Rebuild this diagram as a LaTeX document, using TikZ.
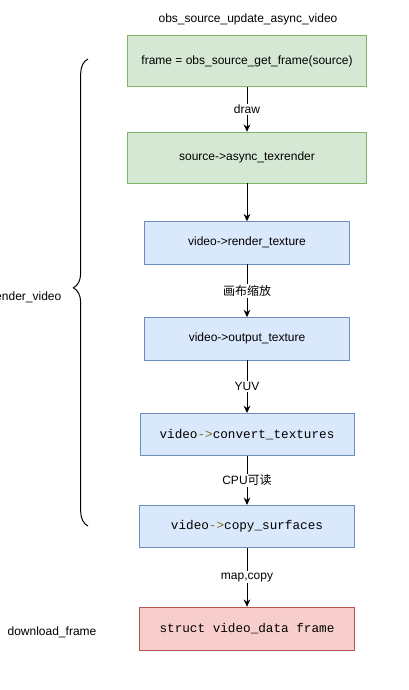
\documentclass[tikz,border=0pt]{standalone}
\usepackage{fontspec}
\setmainfont{Liberation Sans}
\setmonofont{Liberation Mono}
\newfontfamily\cjk{Noto Sans CJK SC}
\usetikzlibrary{arrows.meta,positioning,decorations.pathreplacing}

\definecolor{greenfill}{HTML}{D5E8D4}
\definecolor{greenline}{HTML}{82B366}
\definecolor{bluefill}{HTML}{DAE8FC}
\definecolor{blueline}{HTML}{6C8EBF}
\definecolor{redfill}{HTML}{F8CECC}
\definecolor{redline}{HTML}{B85450}
\definecolor{ptrcol}{HTML}{7F6A1F}

\newcommand{\ptr}{\textcolor{ptrcol}{->}}

\begin{document}
\begin{tikzpicture}[x=0.75pt, y=-0.75pt,
    sansf/.style={font=\fontsize{9pt}{11pt}\selectfont},
    monof/.style={font=\ttfamily\fontsize{9.5pt}{11pt}\selectfont},
    gbox/.style={draw=greenline, fill=greenfill, sansf, minimum width=179.25pt, minimum height=38.25pt, inner sep=2pt},
    bbox/.style={draw=blueline, fill=bluefill, minimum height=31.75pt, inner sep=2pt},
    rbox/.style={draw=redline, fill=redfill, monof, minimum width=161.25pt, minimum height=32.25pt, inner sep=2pt},
    lbl/.style={fill=white, sansf, inner sep=1pt},
    arr/.style={-{Stealth[length=5.5pt,width=5pt]}, line width=0.75pt}
]
\useasboundingbox (0,0) rectangle (409,690);

\node[sansf] (title) at (248,19) {obs\_source\_update\_async\_video};
\node[gbox] (getframe) at (247,61) {frame = obs\_source\_get\_frame(source)};
\node[gbox, below=33.75pt of getframe] (texrender) {source->async\_texrender};
\node[bbox, sansf, minimum width=153.75pt, below=28.5pt of texrender] (rendertex) {video->render\_texture};
\node[bbox, sansf, minimum width=153.75pt, below=39.75pt of rendertex] (outputtex) {video->output\_texture};
\node[bbox, monof, minimum width=160.5pt, below=39.75pt of outputtex] (convert) {video\ptr convert\_textures};
\node[bbox, monof, minimum width=161.25pt, below=36.75pt of convert] (copysurf) {video\ptr copy\_surfaces};
\node[rbox, below=44.25pt of copysurf] (dataframe) {struct video\_data frame};

% side labels
\node[sansf, anchor=east] (rendervideo) at (66,297) {render\_video};
\node[sansf] (download) at (52,632) {download\_frame};
\coordinate (bracetop) at (88,59);
\coordinate (bracebot) at (88,526);
\draw[decorate, decoration={brace, amplitude=11pt, aspect=0.51}, line width=0.75pt] (bracebot) -- (bracetop);

\draw[arr] (getframe) -- node[lbl] {draw} (texrender);
\draw[arr] (texrender) -- (rendertex);
\draw[arr] (rendertex) -- node[lbl] {\cjk 画布缩放} (outputtex);
\draw[arr] (outputtex) -- node[lbl] {YUV} (convert);
\draw[arr] (convert) -- node[lbl] {CPU\cjk 可读} (copysurf);
\draw[arr] (copysurf) -- node[lbl] {map,copy} (dataframe);
\end{tikzpicture}
\end{document}
